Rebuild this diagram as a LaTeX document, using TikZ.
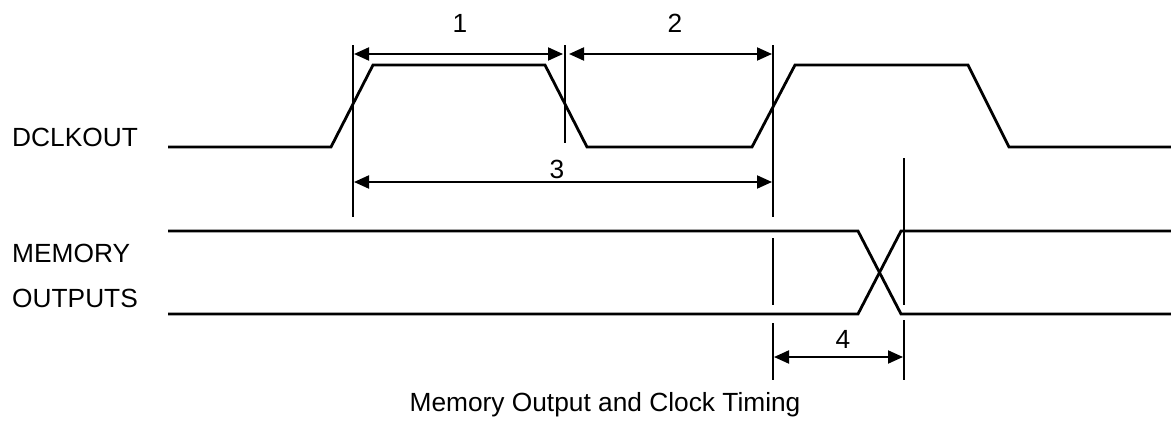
\documentclass[tikz,border=0pt]{standalone}
\usepackage{fontspec}
\setmainfont{Liberation Sans}
\usetikzlibrary{arrows.meta}
\tikzset{
  sig/.style={line width=2.8pt, line join=miter},
  tick/.style={line width=1.3pt},
  dim/.style={line width=2pt, {Triangle[length=15pt,width=13pt]}-{Triangle[length=15pt,width=13pt]}},
  lbl/.style={inner sep=0pt, font=\fontsize{26.3}{30}\selectfont},
}
\begin{document}
\begin{tikzpicture}[x=1pt,y=-1pt]
\useasboundingbox (0,0) rectangle (1171,423);
% labels
\node[lbl, anchor=base west] (ldclk) at (12,146) {DCLKOUT};
\node[lbl, anchor=base west] (lmem) at (12,262) {MEMORY};
\node[lbl, anchor=base west] (lout) at (12,307) {OUTPUTS};
\node[lbl, anchor=base] (cap) at (605,411) {Memory Output and Clock Timing};
% DCLKOUT waveform
\coordinate (d0) at (168,147);
\coordinate (d1) at (331,147);
\coordinate (d2) at (373,65);
\coordinate (d3) at (545,65);
\coordinate (d4) at (587,147);
\coordinate (d5) at (752,147);
\coordinate (d6) at (795,65);
\coordinate (d7) at (968,65);
\coordinate (d8) at (1009,147);
\coordinate (d9) at (1171,147);
\draw[sig] (d0) -- (d1) -- (d2) -- (d3) -- (d4) -- (d5) -- (d6) -- (d7) -- (d8) -- (d9);
% Memory outputs
\coordinate (mt0) at (168,231);
\coordinate (mt1) at (858,231);
\coordinate (mt2) at (901,314);
\coordinate (mt3) at (1171,314);
\coordinate (mb0) at (168,314);
\coordinate (mb1) at (858,314);
\coordinate (mb2) at (901,231);
\coordinate (mb3) at (1171,231);
\draw[sig] (mt0) -- (mt1) -- (mt2) -- (mt3);
\draw[sig] (mb0) -- (mb1) -- (mb2) -- (mb3);
% vertical reference lines
\coordinate (v1a) at (353,45);  \coordinate (v1b) at (353,217);
\coordinate (v2a) at (565,45);  \coordinate (v2b) at (565,143);
\coordinate (v3a) at (773,45);  \coordinate (v3b) at (773,217);
\coordinate (v3c) at (773,238); \coordinate (v3d) at (773,305);
\coordinate (v3e) at (773,323); \coordinate (v3f) at (773,380);
\coordinate (v4a) at (904,158); \coordinate (v4b) at (904,305);
\coordinate (v4c) at (904,320); \coordinate (v4d) at (904,380);
\draw[tick] (v1a) -- (v1b);
\draw[tick] (v2a) -- (v2b);
\draw[tick] (v3a) -- (v3b);
\draw[tick] (v3c) -- (v3d);
\draw[tick] (v3e) -- (v3f);
\draw[tick] (v4a) -- (v4b);
\draw[tick] (v4c) -- (v4d);
% dimension arrows
\coordinate (a1l) at (354,54);  \coordinate (a1r) at (563,54);
\coordinate (a2l) at (569,54);  \coordinate (a2r) at (772,54);
\coordinate (a3l) at (354,182); \coordinate (a3r) at (772,182);
\coordinate (a4l) at (774,357); \coordinate (a4r) at (903,357);
\draw[dim] (a1l) -- (a1r);
\draw[dim] (a2l) -- (a2r);
\draw[dim] (a3l) -- (a3r);
\draw[dim] (a4l) -- (a4r);
\node[lbl, anchor=base] (n1) at (460,32) {1};
\node[lbl, anchor=base] (n2) at (675,32) {2};
\node[lbl, anchor=base] (n3) at (557,178) {3};
\node[lbl, anchor=base] (n4) at (843,348) {4};
\end{tikzpicture}
\end{document}
